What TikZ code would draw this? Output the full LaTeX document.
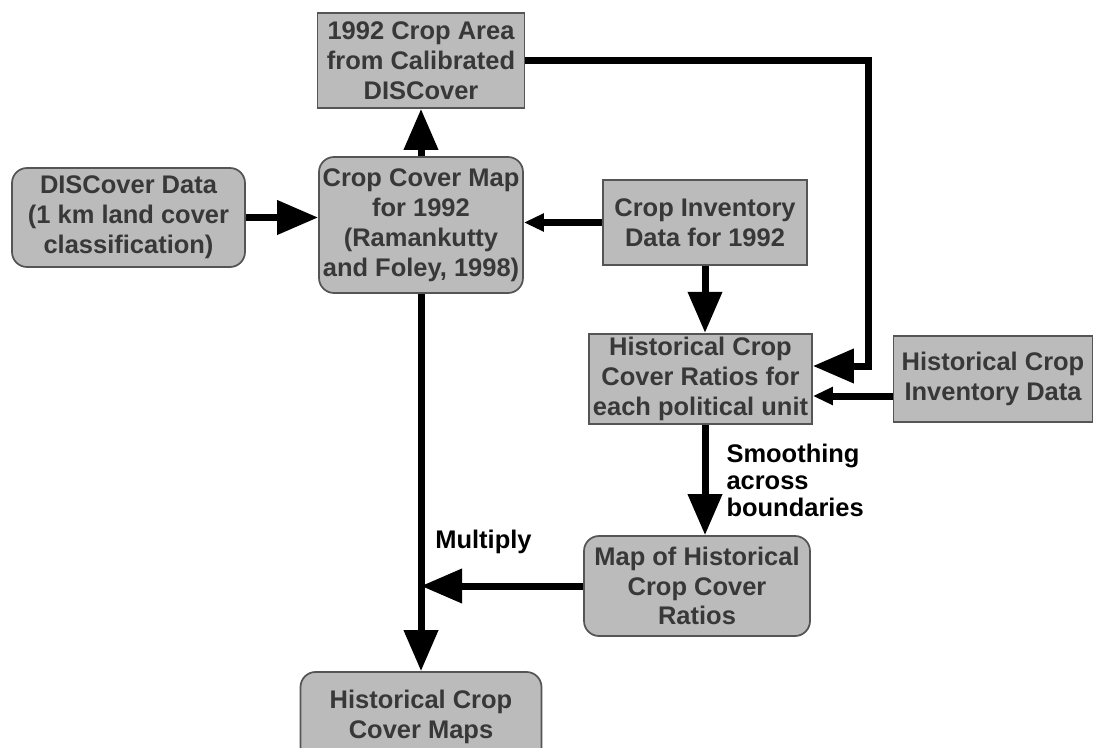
\documentclass[tikz,border=0pt]{standalone}
\usepackage{fontspec}
\setmainfont{Liberation Sans}
\usepackage{xcolor}
\usetikzlibrary{arrows.meta, positioning, calc}
\definecolor{boxfill}{HTML}{BBBBBB}
\definecolor{boxline}{HTML}{555555}
\definecolor{boxtext}{HTML}{383838}

\begin{document}
\begin{tikzpicture}[
  x=0.02cm, y=-0.02cm,
  every node/.style={font=\fontsize{14.5}{17}\selectfont\bfseries},
  box/.style={rectangle, draw=boxline, line width=1pt, fill=boxfill, text=boxtext, align=center, inner sep=2pt},
  rbox/.style={box, rounded corners=0.3cm},
  lbl/.style={font=\fontsize{14.5}{15.3}\selectfont\bfseries, align=left, inner sep=0pt, text=black},
  big/.style={-{Triangle[length=0.82cm, width=0.66cm]}, line width=0.14cm},
  small/.style={-{Triangle[length=0.4cm, width=0.34cm]}, line width=0.14cm},
]
  \useasboundingbox (0,0) rectangle (1094,747);

  % Boites
  \node[box, minimum width=4.14cm, minimum height=1.9cm] (area) at (421,60.5) {1992 Crop Area\\from Calibrated\\DISCover};
  \node[rbox, minimum width=4.66cm, minimum height=1.98cm] (discover) at (128.5,217.5) {DISCover Data\\(1 km land cover\\classification)};
  \node[rbox, minimum width=4.08cm, minimum height=2.72cm] (cropmap) at (421,225) {Crop Cover Map\\for 1992\\(Ramankutty\\and Foley, 1998)};
  \node[box, minimum width=4.08cm, minimum height=1.7cm] (inventory) at (705,222.5) {Crop Inventory\\Data for 1992};
  \node[box, minimum width=4.46cm, minimum height=1.76cm] (ratios) at (700.5,379) {Historical Crop\\Cover Ratios for\\each political unit};
  \node[box, minimum width=3.98cm, minimum height=1.72cm] (histinv) at (993,379) {Historical Crop\\Inventory Data};
  \node[rbox, minimum width=4.52cm, minimum height=2cm] (mapratios) at (697,586) {Map of Historical\\Crop Cover\\Ratios};
  \node[rbox, minimum width=4.82cm, minimum height=1.8cm] (maps) at (421,717) {Historical Crop\\Cover Maps};

  % Points de passage
  \coordinate (bend) at (868,366);
  \coordinate (join) at (cropmap.south |- mapratios.west);

  % Fleches
  \draw[big] (cropmap.north) -- (area.south);
  \draw[big] (discover.east) -- (discover.east -| cropmap.west);
  \draw[small] (inventory.west) -- (inventory.west -| cropmap.east);
  \draw[big] (area.east) -| (bend) -- (bend -| ratios.east);
  \draw[big] (inventory.south) -- (inventory.south |- ratios.north);
  \draw[small] ([yshift=-0.34cm]histinv.west) -- ([yshift=-0.34cm]ratios.east);
  \draw[big] (ratios.south -| inventory.south) -- node[lbl, right=0.36cm] (smooth) {Smoothing\\across\\boundaries} (mapratios.north -| inventory.south);
  \draw[big] (cropmap.south) -- (maps.north);
  \draw[big] (mapratios.west) -- (join);
  \node[lbl, above right=0.64cm and 0.28cm of join] (mult) {Multiply};
\end{tikzpicture}
\end{document}
